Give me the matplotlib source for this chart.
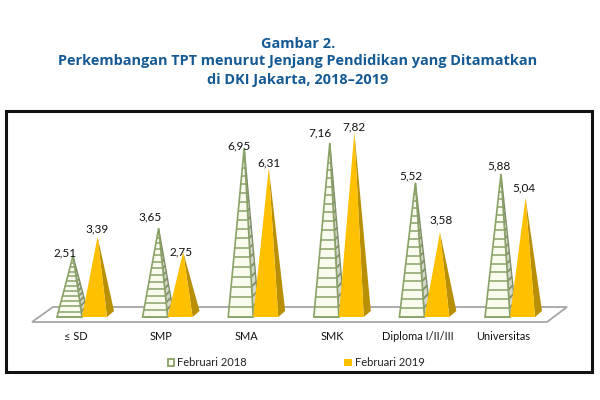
import numpy as np
import matplotlib
matplotlib.use("Agg")
import matplotlib.pyplot as plt
from matplotlib.patches import Polygon, Rectangle

categories = ["≤ SD", "SMP", "SMA", "SMK", "Diploma I/II/III", "Universitas"]
feb_2018 = [2.51, 3.65, 6.95, 7.16, 5.52, 5.88]
feb_2019 = [3.39, 2.75, 6.31, 7.82, 3.58, 5.04]
value_labels_2018 = ["2,51", "3,65", "6,95", "7,16", "5,52", "5,88"]
value_labels_2019 = ["3,39", "2,75", "6,31", "7,82", "3,58", "5,04"]
legend_labels = ["Februari 2018", "Februari 2019"]
title_lines = ["Gambar 2.",
               "Perkembangan TPT menurut Jenjang Pendidikan yang Ditamatkan",
               "di DKI Jakarta, 2018–2019"]

# the value labels were moved by hand in the original, offsets in pixels
label_dx_2018 = [-8, -9, -5, -10, -5, -2]
label_dy_2018 = [3, 11, 2, 10, 7, 8]
label_dx_2019 = [-1, -2, 0, 0, 1, -2]
label_dy_2019 = [7.5, 0, 5, 5, 12, 10]

plt.rcParams['font.family'] = ['Lato', 'DejaVu Sans']

# sizes in pixels
step = 85.6
x0 = 57.0
y0 = 317.0
unit = 24.3
w = 25.0 / step
apex_dx = 16.0 / step
back_dx = 7.0 / step
back_dy = 6.0 / unit
shrink_2019 = 0.974

GREEN = "#8aa268"
SIDE_GREEN = "#7f9066"
PALE = "#f8fbee"
SIDE_PALE = "#d4d8cc"
ORANGE = "#ffc000"
SIDE_ORANGE = "#b98f05"
BLUE = "#155a94"
TEXT = "#111111"

fig = plt.figure(figsize=(6, 4), dpi=100)
ax = fig.add_axes([0, 0, 1, 1])
ax.set_xlim(-x0 / step, (600 - x0) / step)
ax.set_ylim(-(400 - y0) / unit, y0 / unit)
ax.axis("off")


def px(x, y):
    # pixel position in the picture, top left origin, as axes fraction
    return (x / 600, 1 - y / 400)


def px_patch(points, **kw):
    ax.add_patch(Polygon([px(*p) for p in points], closed=True,
                         transform=ax.transAxes, **kw))


# frame and floor
ax.add_patch(Rectangle(px(5.5, 371.5), 586 / 600, 261 / 400, transform=ax.transAxes,
                       facecolor="white", edgecolor="#111111", linewidth=2.2, zorder=0))
px_patch([(32, 322), (53, 307), (567, 307), (547, 322)],
         facecolor="white", edgecolor="#a6a6a6", linewidth=1.3, zorder=1)


def stripes(left, right, apex_x, h, n, color, lw):
    # horizontal bands across a triangular face, wider at the bottom
    fr = 1 - (1 - np.arange(n) / n) ** 1.15
    for f in fr:
        xa = left[0] + (apex_x - left[0]) * f
        ya = left[1] + (h - left[1]) * f
        xb = right[0] + (apex_x - right[0]) * f
        yb = right[1] + (h - right[1]) * f
        ax.plot([xa, xb], [ya, yb], color=color, lw=lw, solid_capstyle="butt", zorder=3)


for i, v in enumerate(feb_2018):
    left = (i, 0)
    right = (i + w, 0)
    back = (i + w + back_dx * 0.8, back_dy)
    top = (i + apex_dx, v)
    n = int(round(9 + 1.5 * v))
    ax.add_patch(Polygon([right, back, top], facecolor=SIDE_PALE, edgecolor=SIDE_GREEN, lw=1.0, zorder=2))
    stripes(right, back, top[0], v, n, SIDE_GREEN, 1.3)
    ax.add_patch(Polygon([left, right, top], facecolor=PALE, edgecolor=GREEN, lw=1.2, zorder=3))
    stripes(left, right, top[0], v, n, GREEN, 1.1)
    ax.text(top[0] + label_dx_2018[i] / step, v + label_dy_2018[i] / unit, value_labels_2018[i],
            ha="center", va="center", fontsize=8.5, color=TEXT, zorder=6)

for i, v in enumerate(feb_2019):
    h = v * shrink_2019
    left = (i + w, 0)
    right = (i + 2 * w, 0)
    back = (i + 2 * w + back_dx, back_dy)
    top = (i + w + apex_dx - 0.005, h)
    ax.add_patch(Polygon([right, back, top], facecolor=SIDE_ORANGE, edgecolor="none", zorder=4))
    ax.add_patch(Polygon([left, right, top], facecolor=ORANGE, edgecolor="none", zorder=5))
    ax.text(top[0] + label_dx_2019[i] / step, h + label_dy_2019[i] / unit, value_labels_2019[i],
            ha="center", va="center", fontsize=8.5, color=TEXT, zorder=6)

# category labels
for i, c in enumerate(categories):
    x, y = px(x0 + step * i + 18.5, 336)
    ax.text(x, y, c, transform=ax.transAxes, ha="center", va="center",
            fontsize=7.9, color=TEXT)

# legend
ax.add_patch(Rectangle(px(167.5, 365.5), 6.5 / 600, 6.5 / 400, transform=ax.transAxes,
                       facecolor=PALE, edgecolor=GREEN, linewidth=1.3))
ax.add_patch(Rectangle(px(344, 366), 8 / 600, 7 / 400, transform=ax.transAxes,
                       facecolor=ORANGE, edgecolor="none"))
x, y = px(177, 362)
ax.text(x, y, legend_labels[0], transform=ax.transAxes, va="center", fontsize=8, color="#222222")
x, y = px(355, 362)
ax.text(x, y, legend_labels[1], transform=ax.transAxes, va="center", fontsize=8, color="#222222")

# title
for line, ypx in zip(title_lines, [44, 61.5, 80]):
    x, y = px(298, ypx)
    ax.text(x, y, line, transform=ax.transAxes, ha="center", va="center", family="Open Sans",
            fontsize=10.45, fontweight="bold", color=BLUE)

fig.savefig("out.png", dpi=100)
